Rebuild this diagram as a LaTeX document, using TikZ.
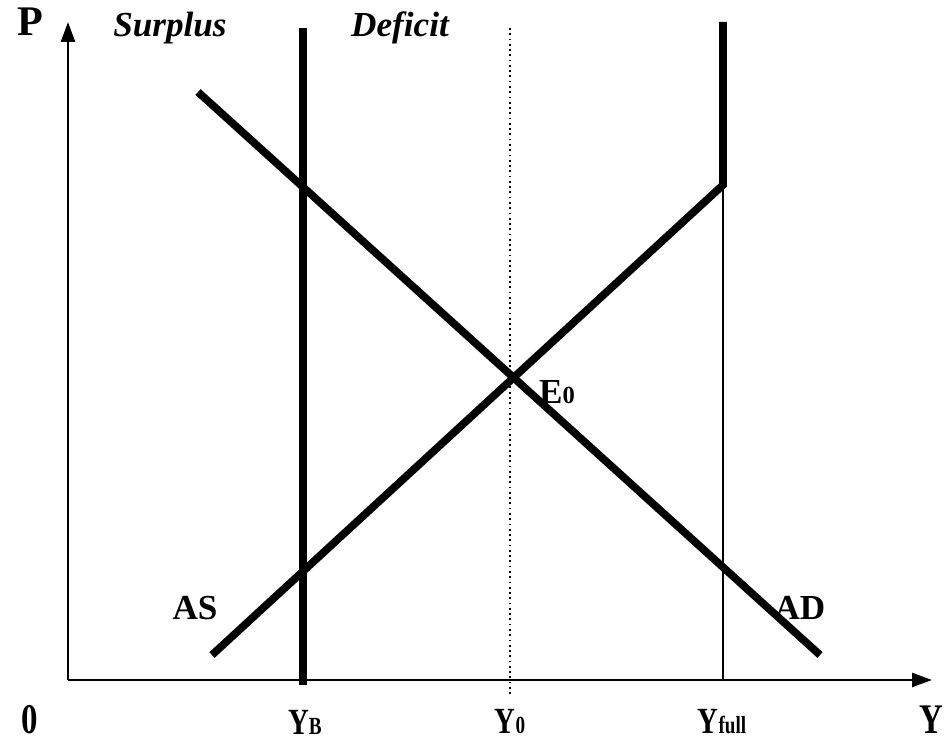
\documentclass[tikz,border=0pt]{standalone}
\usepackage{fontspec}
\setmainfont{Liberation Serif}
\newfontfamily\narrowfont[FakeStretch=0.78]{Liberation Serif}
\usetikzlibrary{positioning, arrows.meta, calc}
\newcommand{\lowsub}[1]{{\fontsize{7}{7}\selectfont #1}}
\tikzset{
  axis/.style={line width=0.7pt, -{Triangle[length=0.2cm,width=0.14cm]}},
  curve/.style={line width=2.2pt},
  guide/.style={line width=0.5pt},
  lbl/.style={font=\fontsize{10}{10}\selectfont\bfseries},
  ylbl/.style={font=\fontsize{10.5}{10.5}\selectfont\narrowfont\bfseries},
  zone/.style={font=\fontsize{10}{10}\selectfont\bfseries\itshape}
}
\begin{document}
\begin{tikzpicture}
					\useasboundingbox (0,0) rectangle (9.46,7.39);
					% axes
					\coordinate (O) at (0.68,0.59);
					\coordinate (Ptop) at (0.68,7.17);
					\coordinate (Yend) at (9.32,0.59);
					\draw[axis] (O) -- (Ptop);
					\draw[axis] (O) -- (Yend);
					% vertical lines
					\coordinate (YBtop) at (3.03,7.11); \coordinate (YBbot) at (3.03,0.54);
					\coordinate (Y0top) at (5.10,7.11); \coordinate (Y0bot) at (5.10,0.44);
					\coordinate (Yftop) at (7.23,7.17); \coordinate (Yfkink) at (7.23,5.54);
					\coordinate (Yfbot) at (7.23,0.59);
					\draw[curve] (YBtop) -- (YBbot);
					\draw[guide, densely dotted] (Y0top) -- (Y0bot);
					\draw[guide] (Yfkink) -- (Yfbot);
					% AS and AD
					\coordinate (ASstart) at (2.12,0.84);
					\coordinate (ADstart) at (1.98,6.47); \coordinate (ADend) at (8.20,0.84);
					\draw[curve, line join=miter] (ASstart) -- (Yfkink) -- (Yftop);
					\draw[curve] (ADstart) -- (ADend);
					% labels
					\node[lbl, font=\fontsize{12}{12}\selectfont\bfseries] (P) at (0.30,7.17) {P};
					\node[zone] (surplus) at (1.70,7.11) {Surplus};
					\node[zone] (deficit) at (4.00,7.11) {Deficit};
					\node[lbl] (E0) at (5.57,3.47) {E\lowsub{0}};
					\node[lbl] (AS) at (1.95,1.31) {AS};
					\node[lbl] (AD) at (8.00,1.31) {AD};
					\node[ylbl, font=\fontsize{12}{12}\selectfont\narrowfont\bfseries] (zero) at (0.30,0.19) {0};
					\node[ylbl] (YB) at (3.05,0.17) {Y\lowsub{B}};
					\node[ylbl] (Y0) at (5.10,0.17) {Y\lowsub{0}};
					\node[ylbl] (Yfull) at (7.22,0.17) {Y\lowsub{full}};
					\node[ylbl, font=\fontsize{12}{12}\selectfont\narrowfont\bfseries, anchor=east, inner sep=0.5pt] (Y) at (9.46,0.19) {Y};
				\end{tikzpicture}
\end{document}
